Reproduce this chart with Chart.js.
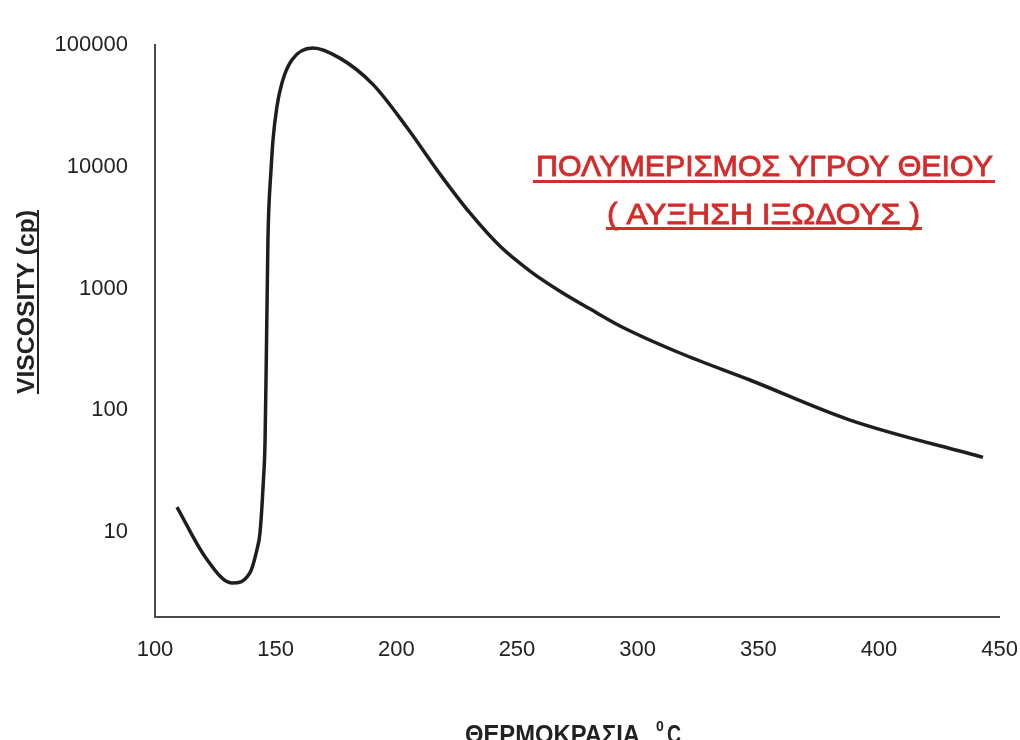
<!DOCTYPE html>
<html>
<head>
<meta charset="utf-8">
<script src="https://cdn.jsdelivr.net/npm/chart.js@4.4.0/dist/chart.umd.min.js"></script>
<style>
  html, body { margin: 0; padding: 0; background: #fff; overflow: hidden; }
  #wrap { width: 1020px; height: 740px; position: relative; overflow: hidden; }
</style>
</head>
<body>
<div id="wrap"><canvas id="myChart" width="1030" height="740"></canvas></div>
<script>
// temperature (°C) and viscosity (cp)
var temps = [109.1, 121.1, 131.9, 139.3, 142.2, 143.5, 144.9, 145.6, 146.2, 146.8, 147.2, 148.0, 148.9, 150.5, 152.6, 156.7, 165.4, 176.6, 190.3, 204.4, 218.1, 230.5, 242.9, 255.4, 267.8, 280.2, 292.7, 317.5, 346.5, 388.0, 443.1];
var viscosity = [16, 6.1, 3.8, 4.6, 7.1, 9.8, 26, 55, 344, 2500, 4670, 8890, 16600, 31000, 48800, 75300, 94500, 78000, 47500, 21000, 8700, 4170, 2230, 1390, 950, 680, 492, 295, 177, 83, 41];
var xTicks = [100, 150, 200, 250, 300, 350, 400, 450];
var yTicks = [10, 100, 1000, 10000, 100000];

var points = temps.map(function (t, i) { return { x: t, y: viscosity[i] }; });

function fitText(ctx, text, x0, x1, baseline, font, stroke) {
    ctx.font = font;
    var w = ctx.measureText(text).width;
    ctx.save();
    ctx.translate(x0, baseline);
    ctx.scale((x1 - x0) / w, 1);
    ctx.fillText(text, 0, 0);
    if (stroke) {
        ctx.lineWidth = stroke;
        ctx.strokeStyle = ctx.fillStyle;
        ctx.strokeText(text, 0, 0);
    }
    ctx.restore();
}

// axis titles and red note, drawn over the chart
var labelsPlugin = {
    id: 'labels',
    afterDraw: function (chart) {
        var ctx = chart.ctx;
        ctx.save();
        ctx.textAlign = 'left';
        ctx.textBaseline = 'alphabetic';

        // y title
        ctx.save();
        ctx.translate(34, 302);
        ctx.rotate(-Math.PI / 2);
        ctx.fillStyle = '#222';
        fitText(ctx, 'VISCOSITY (cp)', -92, 92, 0, 'bold 23px "Liberation Sans", Arial');
        ctx.fillRect(-92, 3, 184, 2);
        ctx.restore();

        // x title
        ctx.fillStyle = '#222';
        fitText(ctx, 'ΘΕΡΜΟΚΡΑΣΙΑ', 465, 640, 743, 'bold 26px "Liberation Sans", Arial');
        ctx.font = 'bold 14px "Liberation Sans", Arial';
        ctx.fillText('0', 656, 731);
        fitText(ctx, 'C', 667, 681, 743, 'bold 26px "Liberation Sans", Arial');

        // red note
        ctx.fillStyle = '#d42b2b';
        fitText(ctx, 'ΠΟΛΥΜΕΡΙΣΜΟΣ ΥΓΡΟΥ ΘΕΙΟΥ', 536, 993, 176, '30px "Liberation Sans", Arial', 0.8);
        ctx.fillRect(533, 180, 462, 3);
        fitText(ctx, '( ΑΥΞΗΣΗ ΙΞΩΔΟΥΣ )', 607, 920, 224, '30px "Liberation Sans", Arial', 0.8);
        ctx.fillRect(606, 227, 316, 3);
        ctx.restore();
    }
};

var ctx = document.getElementById('myChart').getContext('2d');
var myChart = new Chart(ctx, {
    type: 'scatter',
    data: {
        datasets: [{
            data: points,
            showLine: true,
            borderColor: '#1e1e1e',
            borderWidth: 3.5,
            pointRadius: 0,
            cubicInterpolationMode: 'monotone',
            fill: false
        }]
    },
    options: {
        responsive: false,
        animation: false,
        layout: { padding: { left: 0, right: 0, top: 45, bottom: 0 } },
        plugins: {
            legend: { display: false },
            tooltip: { enabled: false }
        },
        scales: {
            x: {
                type: 'linear',
                min: 100,
                max: 450,
                afterBuildTicks: function (axis) {
                    axis.ticks = xTicks.map(function (v) { return { value: v }; });
                },
                afterFit: function (axis) { axis.height = 123; },
                grid: { display: false },
                border: { display: true, color: '#4a4a4a', width: 2 },
                ticks: {
                    color: '#222',
                    padding: 12,
                    maxRotation: 0,
                    font: { family: '"Liberation Sans", Arial', size: 22 }
                }
            },
            y: {
                type: 'logarithmic',
                min: 2,
                max: 100000,
                afterBuildTicks: function (axis) {
                    axis.ticks = yTicks.map(function (v) { return { value: v }; });
                },
                afterFit: function (axis) { axis.width = 155; },
                grid: { display: false },
                border: { display: true, color: '#4a4a4a', width: 2 },
                ticks: {
                    color: '#222',
                    padding: 19,
                    callback: function (v) { return String(v); },
                    font: { family: '"Liberation Sans", Arial', size: 22 }
                }
            }
        }
    },
    plugins: [labelsPlugin]
});
</script>
</body>
</html>
